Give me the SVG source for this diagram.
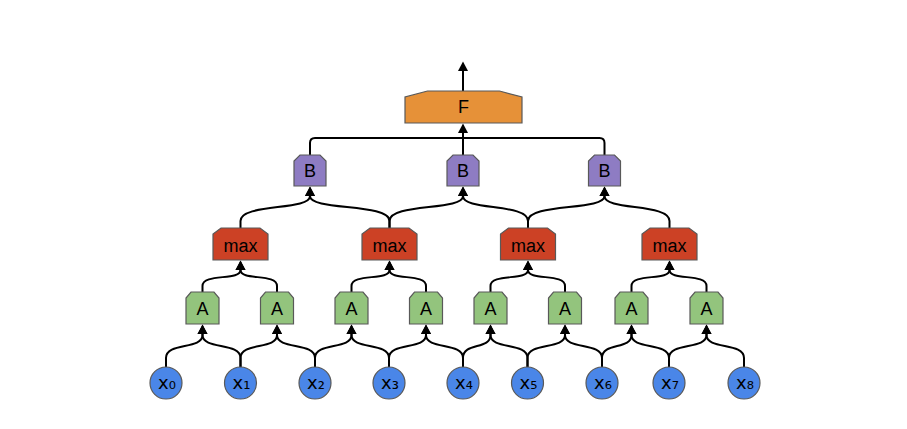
<svg xmlns="http://www.w3.org/2000/svg" xmlns:xlink="http://www.w3.org/1999/xlink" width="907" height="429" viewBox="0 0 907 429">
<style>
.bg{fill:#ffffff}
.shp{stroke:#595959;stroke-width:1.2}
.a{fill:#93c47d}
.m{fill:#cc4125}
.b{fill:#8e7cc3}
.f{fill:#e69138}
.x{fill:#4a86e8}
.lbl{font-family:"Liberation Sans",Arial,sans-serif;font-size:18px;fill:#000;text-anchor:middle}
.xl{font-family:"DejaVu Sans",sans-serif;font-size:18px;fill:#000;text-anchor:middle}
.e{fill:none;stroke:#000;stroke-width:2}
.ea{fill:none;stroke:#000;stroke-width:2;marker-end:url(#ah)}
</style>
<defs>
<marker id="ah" markerUnits="userSpaceOnUse" markerWidth="11" markerHeight="11" refX="5" refY="5.5" orient="auto"><path d="M0,0.5 L9.5,5.5 L0,10.5 Z" fill="#000"/></marker>
<path id="sA" d="M-16.5,32 V6 L-11.5,0 H11.5 L16.5,6 V32 Z"/>
<path id="sB" d="M-16,31 V6 L-10,0 H10 L16,6 V31 Z"/>
<path id="sM" d="M-27.5,32 V6 L-19.5,0 H19.5 L27.5,6 V32 Z"/>
<path id="sF" d="M-58.5,32 V6 L-36,0 H36 L58.5,6 V32 Z"/>
</defs>
<rect class="bg" x="0" y="0" width="907" height="429"/>
<g id="connectors">
<path class="ea" d="M166,367 V358 C166,342 202.5,350 202.5,335 V329"/>
<path class="ea" d="M240.5,367 V358 C240.5,342 202.5,350 202.5,335 V329"/>
<path class="ea" d="M240.5,367 V358 C240.5,342 277,350 277,335 V329"/>
<path class="ea" d="M315,367 V358 C315,342 277,350 277,335 V329"/>
<path class="ea" d="M315,367 V358 C315,342 351.5,350 351.5,335 V329"/>
<path class="ea" d="M389,367 V358 C389,342 351.5,350 351.5,335 V329"/>
<path class="ea" d="M389,367 V358 C389,342 426,350 426,335 V329"/>
<path class="ea" d="M463,367 V358 C463,342 426,350 426,335 V329"/>
<path class="ea" d="M463,367 V358 C463,342 490.5,350 490.5,335 V329"/>
<path class="ea" d="M527.5,367 V358 C527.5,342 490.5,350 490.5,335 V329"/>
<path class="ea" d="M527.5,367 V358 C527.5,342 565,350 565,335 V329"/>
<path class="ea" d="M602,367 V358 C602,342 565,350 565,335 V329"/>
<path class="ea" d="M602,367 V358 C602,342 631.5,350 631.5,335 V329"/>
<path class="ea" d="M669,367 V358 C669,342 631.5,350 631.5,335 V329"/>
<path class="ea" d="M669,367 V358 C669,342 706.5,350 706.5,335 V329"/>
<path class="ea" d="M744,367 V358 C744,342 706.5,350 706.5,335 V329"/>
<path class="ea" d="M202.5,292 V286 C202.5,273 240.5,281 240.5,270 V265"/>
<path class="ea" d="M277,292 V286 C277,273 240.5,281 240.5,270 V265"/>
<path class="ea" d="M351.5,292 V286 C351.5,273 389.5,281 389.5,270 V265"/>
<path class="ea" d="M426,292 V286 C426,273 389.5,281 389.5,270 V265"/>
<path class="ea" d="M490.5,292 V286 C490.5,273 528,281 528,270 V265"/>
<path class="ea" d="M565,292 V286 C565,273 528,281 528,270 V265"/>
<path class="ea" d="M631.5,292 V286 C631.5,273 669.5,281 669.5,270 V265"/>
<path class="ea" d="M706.5,292 V286 C706.5,273 669.5,281 669.5,270 V265"/>
<path class="ea" d="M240.5,228 V221 C240.5,203 310,211 310,196 V191"/>
<path class="ea" d="M389.5,228 V221 C389.5,203 310,211 310,196 V191"/>
<path class="ea" d="M389.5,228 V221 C389.5,203 463,211 463,196 V191"/>
<path class="ea" d="M528,228 V221 C528,203 463,211 463,196 V191"/>
<path class="ea" d="M528,228 V221 C528,203 604.5,211 604.5,196 V191"/>
<path class="ea" d="M669.5,228 V221 C669.5,203 604.5,211 604.5,196 V191"/>
<path class="e" d="M310,155 V143 Q310,138 315,138 H463"/>
<path class="e" d="M604.5,155 V143 Q604.5,138 599.5,138 H463"/>
<path class="ea" d="M463,155 V128"/>
<path class="ea" d="M463,91 V66"/>
</g>
<g id="F"><use xlink:href="#sF" class="shp f" x="463.5" y="91"/><text class="lbl" x="463.5" y="113">F</text></g>
<g id="B1"><use xlink:href="#sB" class="shp b" x="310" y="155"/><text class="lbl" x="310" y="177">B</text></g>
<g id="B2"><use xlink:href="#sB" class="shp b" x="463" y="155"/><text class="lbl" x="463" y="177">B</text></g>
<g id="B3"><use xlink:href="#sB" class="shp b" x="604.5" y="155"/><text class="lbl" x="604.5" y="177">B</text></g>
<g id="max1"><use xlink:href="#sM" class="shp m" x="240.5" y="228"/><text class="lbl" x="240.5" y="252">max</text></g>
<g id="max2"><use xlink:href="#sM" class="shp m" x="389.5" y="228"/><text class="lbl" x="389.5" y="252">max</text></g>
<g id="max3"><use xlink:href="#sM" class="shp m" x="528" y="228"/><text class="lbl" x="528" y="252">max</text></g>
<g id="max4"><use xlink:href="#sM" class="shp m" x="669.5" y="228"/><text class="lbl" x="669.5" y="252">max</text></g>
<g id="A1"><use xlink:href="#sA" class="shp a" x="202.5" y="292"/><text class="lbl" x="202.5" y="315">A</text></g>
<g id="A2"><use xlink:href="#sA" class="shp a" x="277" y="292"/><text class="lbl" x="277" y="315">A</text></g>
<g id="A3"><use xlink:href="#sA" class="shp a" x="351.5" y="292"/><text class="lbl" x="351.5" y="315">A</text></g>
<g id="A4"><use xlink:href="#sA" class="shp a" x="426" y="292"/><text class="lbl" x="426" y="315">A</text></g>
<g id="A5"><use xlink:href="#sA" class="shp a" x="490.5" y="292"/><text class="lbl" x="490.5" y="315">A</text></g>
<g id="A6"><use xlink:href="#sA" class="shp a" x="565" y="292"/><text class="lbl" x="565" y="315">A</text></g>
<g id="A7"><use xlink:href="#sA" class="shp a" x="631.5" y="292"/><text class="lbl" x="631.5" y="315">A</text></g>
<g id="A8"><use xlink:href="#sA" class="shp a" x="706.5" y="292"/><text class="lbl" x="706.5" y="315">A</text></g>
<g id="x0"><circle class="shp x" cx="166" cy="383" r="16"/><text class="xl" x="167" y="389">x₀</text></g>
<g id="x1"><circle class="shp x" cx="240.5" cy="383" r="16"/><text class="xl" x="241.5" y="389">x₁</text></g>
<g id="x2"><circle class="shp x" cx="315" cy="383" r="16"/><text class="xl" x="316" y="389">x₂</text></g>
<g id="x3"><circle class="shp x" cx="389" cy="383" r="16"/><text class="xl" x="390" y="389">x₃</text></g>
<g id="x4"><circle class="shp x" cx="463" cy="383" r="16"/><text class="xl" x="464" y="389">x₄</text></g>
<g id="x5"><circle class="shp x" cx="527.5" cy="383" r="16"/><text class="xl" x="528.5" y="389">x₅</text></g>
<g id="x6"><circle class="shp x" cx="602" cy="383" r="16"/><text class="xl" x="603" y="389">x₆</text></g>
<g id="x7"><circle class="shp x" cx="669" cy="383" r="16"/><text class="xl" x="670" y="389">x₇</text></g>
<g id="x8"><circle class="shp x" cx="744" cy="383" r="16"/><text class="xl" x="745" y="389">x₈</text></g>
</svg>
